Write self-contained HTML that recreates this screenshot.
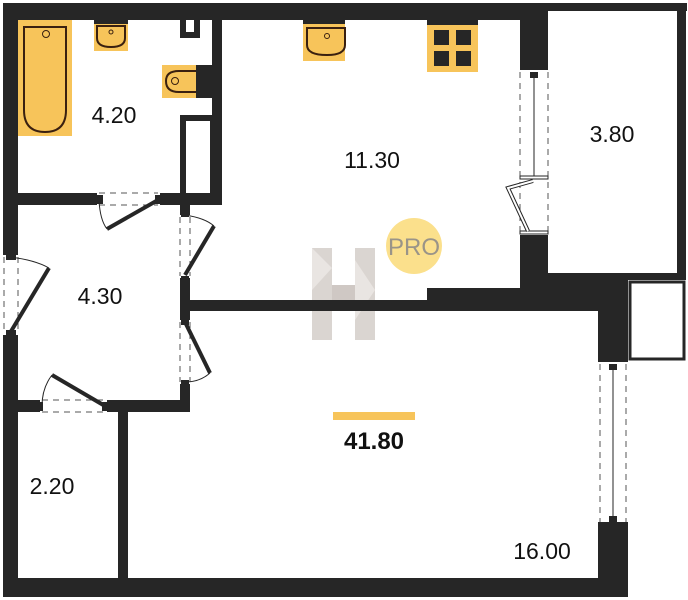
<!DOCTYPE html>
<html><head><meta charset="utf-8"><style>
html,body{margin:0;padding:0;background:#fff;}
svg{display:block;}
text{font-family:"Liberation Sans",sans-serif;}
</style></head><body>
<svg width="688" height="600" viewBox="0 0 688 600" xmlns="http://www.w3.org/2000/svg">
<rect width="688" height="600" fill="#fff"/>
<!-- watermark H -->
<g opacity="0.55">
<rect x="312" y="248" width="20" height="92" fill="#bdb3ad"/>
<rect x="355" y="248" width="20" height="92" fill="#bdb3ad"/>
<rect x="332" y="285" width="23" height="20" fill="#a89c94"/>
<polygon points="312,248 332,268 312,290" fill="#d8d0cb"/>
<polygon points="355,260 375,290 355,320" fill="#d8d0cb"/>
</g>
<g fill="#262626">
<!-- top wall -->
<rect x="3" y="3" width="545" height="17"/>
<rect x="548" y="3" width="139" height="8"/>
<!-- left wall -->
<rect x="3" y="3" width="15" height="252"/>
<rect x="3" y="335" width="15" height="262"/>
<!-- bottom wall -->
<rect x="3" y="578" width="625" height="19"/>
<!-- bathroom right wall -->
<rect x="212" y="20" width="10" height="185"/>
<!-- shaft -->
<rect x="180" y="115" width="32" height="85"/>
<rect x="186" y="121" width="24" height="72" fill="#fff"/>
<rect x="180" y="20" width="20" height="18"/>
<rect x="186" y="20" width="8" height="12" fill="#fff"/>
<!-- bathroom bottom wall -->
<rect x="18" y="193" width="79" height="12"/>
<rect x="160" y="193" width="62" height="12"/>
<!-- hall right wall -->
<rect x="180" y="205" width="10" height="10"/>
<rect x="180" y="278" width="10" height="42"/>
<rect x="180" y="384" width="10" height="28"/>
<!-- hall bottom wall -->
<rect x="18" y="400" width="22" height="12"/>
<rect x="107" y="400" width="83" height="12"/>
<!-- closet wall -->
<rect x="118" y="412" width="10" height="166"/>
<!-- kitchen bottom wall -->
<rect x="190" y="300" width="240" height="11"/>
<rect x="427" y="288" width="121" height="23"/>
<!-- kitchen right wall -->
<rect x="520" y="20" width="28" height="50"/>
<rect x="520" y="235" width="28" height="55"/>
<!-- balcony -->
<rect x="677" y="3" width="9" height="277"/>
<rect x="548" y="273" width="137" height="7"/>
<rect x="548" y="273" width="80" height="38"/>
<rect x="598" y="273" width="30" height="89"/>
<rect x="598" y="522" width="30" height="75"/>
</g>
<!-- small box -->
<rect x="630" y="282" width="54" height="77" fill="none" stroke="#262626" stroke-width="3"/>
<!-- windows -->
<g stroke="#555" stroke-width="1" stroke-dasharray="6,5" fill="none">
<line x1="520" y1="72" x2="520" y2="235"/><line x1="548" y1="72" x2="548" y2="235"/>
<line x1="600" y1="364" x2="600" y2="522"/><line x1="626" y1="364" x2="626" y2="522"/>
<line x1="4" y1="257" x2="4" y2="333"/><line x1="18" y1="257" x2="18" y2="333"/>
<line x1="180" y1="217" x2="180" y2="276"/><line x1="190" y1="217" x2="190" y2="276"/>
<line x1="180" y1="322" x2="180" y2="382"/><line x1="190" y1="322" x2="190" y2="382"/>
<line x1="99" y1="193" x2="158" y2="193"/><line x1="99" y1="205" x2="158" y2="205"/>
<line x1="42" y1="400" x2="105" y2="400"/><line x1="42" y1="412" x2="105" y2="412"/>
</g>
<g stroke="#262626" fill="none">
<line x1="534" y1="72" x2="534" y2="176" stroke-width="1"/>
<line x1="613" y1="364" x2="613" y2="522" stroke-width="1"/>
<rect x="520" y="176" width="28" height="3" stroke-width="1" fill="#fff"/>
<rect x="520" y="231" width="28" height="3" stroke-width="1" fill="#fff"/>
<polyline points="533,181 508,188 528,231" stroke-width="4"/>
<polyline points="533,181 508,188 528,231" stroke="#fff" stroke-width="2"/>
<!-- doors -->
<line x1="158" y1="200" x2="107" y2="229" stroke-width="4"/>
<path d="M99,200 Q100,220 107,229" stroke-width="1"/>
<line x1="185" y1="275" x2="214" y2="226" stroke-width="4"/>
<path d="M185,215 Q205,218 214,226" stroke-width="1"/>
<line x1="185" y1="322" x2="210" y2="373" stroke-width="4"/>
<path d="M185,382 Q200,382 210,373" stroke-width="1"/>
<line x1="10" y1="333" x2="49" y2="268" stroke-width="4"/>
<path d="M10,257 Q35,260 49,268" stroke-width="1"/>
<line x1="105" y1="406" x2="52" y2="375" stroke-width="4"/>
<path d="M42,406 Q42,388 52,375" stroke-width="1"/>
</g>
<g fill="#262626">
<rect x="95" y="195" width="8" height="9"/><rect x="155" y="195" width="8" height="9"/>
<rect x="181" y="210" width="8" height="7"/><rect x="181" y="276" width="8" height="7"/>
<rect x="181" y="318" width="8" height="7"/><rect x="181" y="380" width="8" height="7"/>
<rect x="6" y="254" width="10" height="6"/><rect x="6" y="330" width="10" height="6"/>
<rect x="35" y="402" width="8" height="9"/><rect x="102" y="402" width="8" height="9"/>
<rect x="530" y="72" width="8" height="6"/><rect x="609" y="364" width="8" height="6"/><rect x="609" y="516" width="8" height="6"/>
</g>
<!-- fixtures -->
<g stroke="#3a2010" stroke-width="1.5">
<rect x="18" y="20" width="54" height="116" fill="#f7c45a" stroke-width="0"/>
<path d="M24,27 H66 V110 Q66,132 45,132 Q24,132 24,110 Z" fill="#f7c45a" stroke-width="2"/>
<circle cx="46" cy="34" r="3.5" fill="none" stroke-width="1"/>
<rect x="94" y="20" width="34" height="31" fill="#f7c45a" stroke-width="0"/>
<rect x="94" y="20" width="34" height="4" fill="#262626" stroke-width="0"/>
<path d="M97,26 H125 V38 Q125,47 111,47 Q97,47 97,38 Z" fill="#f7c45a" stroke-width="2"/>
<circle cx="111" cy="32" r="2" fill="none" stroke-width="1"/>
<rect x="162" y="65" width="34" height="33" fill="#f7c45a" stroke-width="0"/>
<rect x="196" y="65" width="16" height="33" fill="#262626" stroke-width="0"/>
<path d="M196,71 H179 Q166,71 166,81 Q166,92 179,92 H196" fill="none" stroke-width="2"/>
<circle cx="175" cy="81" r="3.5" fill="none" stroke-width="1"/>
<rect x="303" y="20" width="42" height="41" fill="#f7c45a" stroke-width="0"/>
<rect x="303" y="20" width="42" height="4" fill="#262626" stroke-width="0"/>
<path d="M307,28 H345 V45 Q345,55 327,55 Q307,55 307,45 Z" fill="#f7c45a" stroke-width="2"/>
<circle cx="327" cy="36" r="2.5" fill="none" stroke-width="1"/>
<rect x="427" y="20" width="51" height="52" fill="#f7c45a" stroke-width="0"/>
<rect x="427" y="20" width="51" height="5" fill="#262626" stroke-width="0"/>
</g>
<g fill="#262626">
<rect x="434" y="30" width="15" height="15"/><rect x="456" y="30" width="15" height="15"/>
<rect x="434" y="51" width="15" height="15"/><rect x="456" y="51" width="15" height="15"/>
</g>
<!-- PRO -->
<circle cx="414" cy="246" r="28" fill="#fbe08c"/>
<text x="414" y="255" font-size="24" fill="#9a9488" text-anchor="middle">PRO</text>
<!-- labels -->
<g font-size="23" fill="#111" text-anchor="middle">
<text x="114" y="123">4.20</text>
<text x="372" y="168">11.30</text>
<text x="612" y="142">3.80</text>
<text x="100" y="304">4.30</text>
<text x="52" y="494">2.20</text>
<text x="542" y="559">16.00</text>
</g>
<rect x="333" y="412" width="82" height="8" fill="#f7c45a"/>
<text x="374" y="449" font-size="24" font-weight="bold" fill="#111" text-anchor="middle">41.80</text>
</svg>
</body></html>
